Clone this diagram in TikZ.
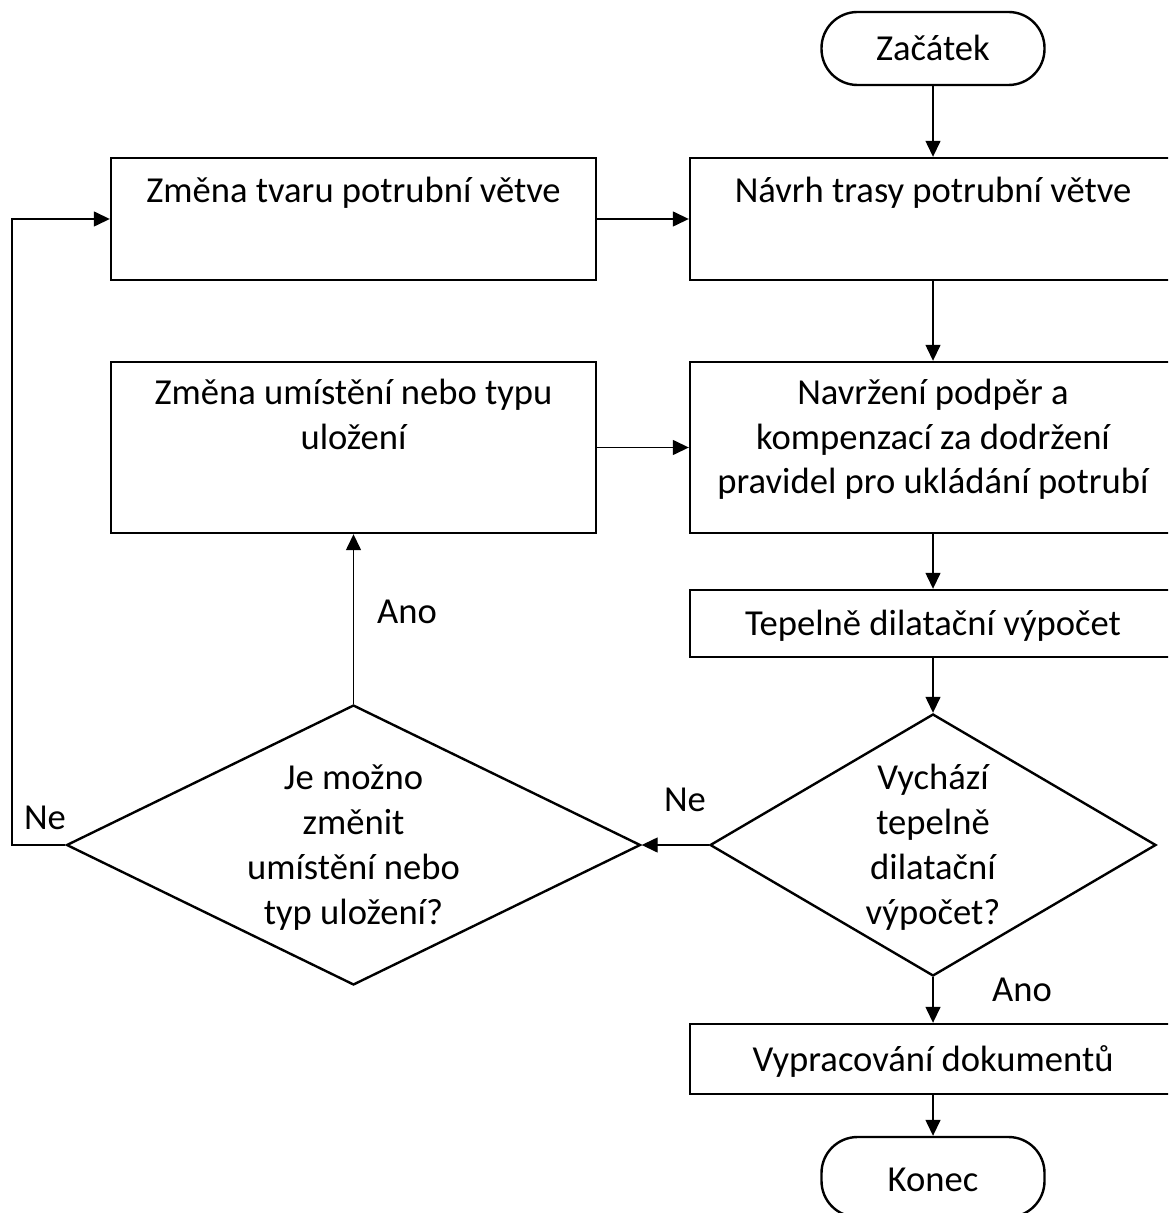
\documentclass[tikz,border=0pt]{standalone}
\usepackage{fontspec}
\setmainfont{Carlito}
\usetikzlibrary{shapes.geometric,arrows.meta}
\tikzset{
  box/.style={draw, line width=1.2pt, align=center, inner sep=0pt, text height=12pt},
  term/.style={box, rounded corners=18pt, minimum width=111.5pt, minimum height=36.5pt, text depth=0pt},
  dec/.style={diamond, draw, line width=1.2pt, align=center, inner sep=0pt, text height=79pt, text depth=0pt, font=\fontsize{18.3}{22.5}\selectfont},
  conn/.style={line width=0.7pt, -{Triangle[length=8pt,width=7.5pt]}},
  lab/.style={inner sep=0pt},
}
\begin{document}
\begin{tikzpicture}[x=0.5pt, y=-0.5pt, font=\fontsize{18.3}{22}\selectfont]
  \useasboundingbox (0,0) rectangle (1168,1213);
  \clip (0,0) rectangle (1168,1213);
  % right column
  \node[term] (zacatek) at (933,48.5) {Začátek};
  \node[box, minimum width=243pt, minimum height=61pt, text depth=28pt] (navrh) at (933,219) {Návrh trasy potrubní větve};
  \node[box, minimum width=243pt, minimum height=85.5pt, text height=45.5pt, text depth=0pt] (navrzeni) at (933,447.5) {Navržení podpěr a\\kompenzací za dodržení\\pravidel pro ukládání potrubí};
  \node[box, minimum width=243pt, minimum height=33.5pt, text depth=0pt] (vypocet) at (933,623.5) {Tepelně dilatační výpočet};
  \node[dec, aspect=1.7, minimum width=223pt, minimum height=131pt] (vychazi) at (933,845) {Vychází\\tepelně\\dilatační\\výpočet?};
  \node[box, minimum width=243pt, minimum height=35pt, text depth=0pt] (dokumenty) at (933,1059) {Vypracování dokumentů};
  \node[term, minimum height=40pt, text height=14pt] (konec) at (933,1177) {Konec};
  % left column
  \node[box, minimum width=242.5pt, minimum height=61pt, text depth=28pt] (tvar) at (353.5,219) {Změna tvaru potrubní větve};
  \node[box, minimum width=242.5pt, minimum height=85.5pt, text depth=10.5pt] (umisteni) at (353.5,447.5) {Změna umístění nebo typu\\uložení};
  \node[dec, aspect=2.05, minimum width=287pt, minimum height=140pt] (zmena) at (353.5,845) {Je možno\\změnit\\umístění nebo\\typ uložení?};
  \coordinate (obtok) at (12,845);
  % connectors
  \draw[conn] (zacatek) -- (navrh);
  \draw[conn] (navrh) -- (navrzeni);
  \draw[conn] (navrzeni) -- (vypocet);
  \draw[conn] (vypocet) -- (vychazi);
  \draw[conn] (vychazi) -- (dokumenty);
  \draw[conn] (dokumenty) -- (konec);
  \draw[conn] (tvar) -- (navrh);
  \draw[conn] (umisteni) -- (navrzeni);
  \draw[conn] (vychazi) -- (zmena);
  \draw[conn] (zmena) -- (umisteni);
  \draw[conn] (zmena.west) -- (obtok) |- (tvar.west);
  % labels
  \node[lab] (ne1) at (45,818) {Ne};
  \node[lab] (ne2) at (685,800) {Ne};
  \node[lab] (ano1) at (407,612) {Ano};
  \node[lab] (ano2) at (1022,990) {Ano};
\end{tikzpicture}
\end{document}
